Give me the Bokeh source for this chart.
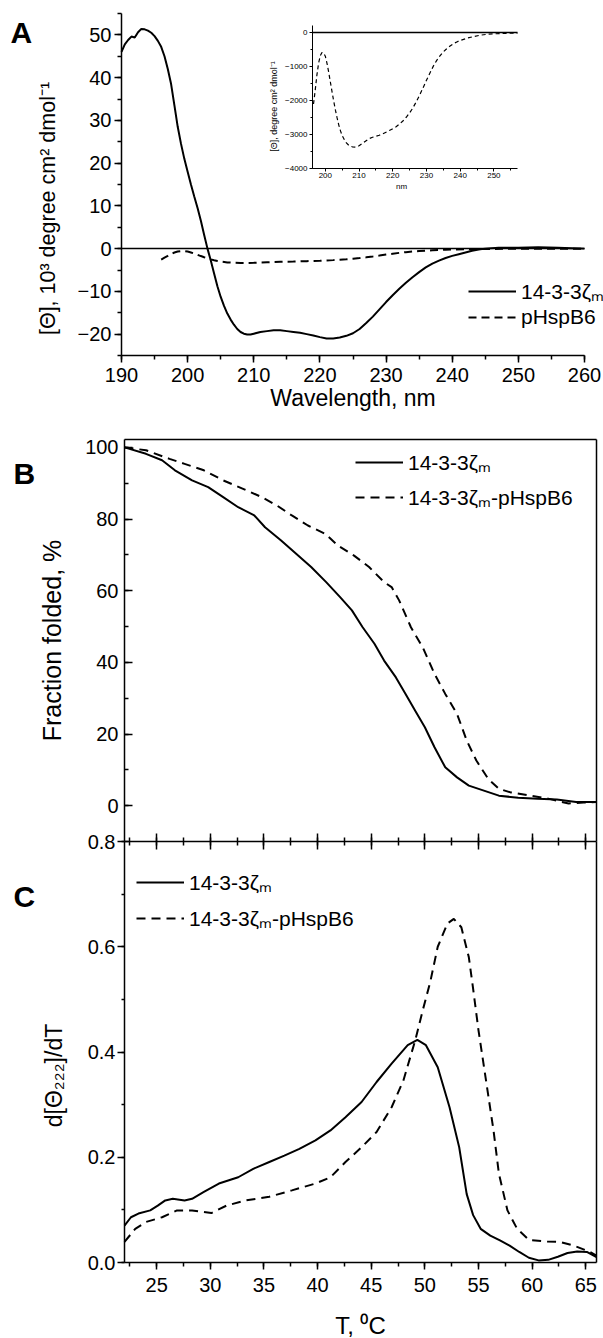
import math
from bokeh.plotting import figure
from bokeh.models import (Range1d, SingleIntervalTicker, FixedTicker, Label, Legend, LegendItem,
                          LinearAxis, PrintfTickFormatter)
from bokeh.embed import file_html
from bokeh.resources import INLINE

FONT = "Liberation Sans"

# ---------------- Panel A : far-UV CD spectra ----------------
wl_zeta = [190.0, 190.5, 191.0, 191.5, 192.0, 192.5, 193.0, 193.5, 194.0, 194.5,
           195.0, 195.5, 196.0, 196.5, 197.0, 197.5, 198.0, 198.5, 199.0, 199.5,
           200.0, 200.5, 201.0, 201.5, 202.0, 202.5, 203.0, 203.5, 204.0, 204.5,
           205.0, 205.5, 206.0, 206.5, 207.0, 207.5, 208.0, 208.5, 209.0, 209.5,
           210.0, 211.0, 212.0, 213.0, 214.0, 215.0, 216.0, 217.0, 218.0, 219.0,
           220.0, 221.0, 222.0, 223.0, 224.0, 225.0, 226.0, 227.0, 228.0, 229.0,
           230.0, 231.0, 232.0, 233.0, 234.0, 235.0, 236.0, 237.0, 238.0, 239.0,
           240.0, 241.0, 242.0, 243.0, 244.0, 245.0, 247.0, 250.0, 253.0, 256.0,
           258.0, 260.0]
cd_zeta = [46.0, 47.8, 48.8, 49.6, 49.4, 50.6, 51.4, 51.3, 51.0, 50.5,
           49.7, 48.6, 47.2, 45.0, 42.0, 38.5, 33.5, 28.5, 24.5, 21.0,
           18.0, 15.0, 12.2, 9.5, 6.5, 3.2, 0.0, -2.8, -5.8, -8.8,
           -11.3, -13.4, -15.2, -16.6, -17.8, -18.8, -19.5, -19.9, -20.1, -20.1,
           -19.9, -19.5, -19.3, -19.1, -19.1, -19.3, -19.5, -19.7, -20.0, -20.3,
           -20.7, -21.0, -21.0, -20.8, -20.4, -19.8, -18.8, -17.4, -15.9, -14.2,
           -12.5, -10.9, -9.4, -8.0, -6.7, -5.5, -4.4, -3.5, -2.8, -2.2,
           -1.7, -1.3, -0.9, -0.5, -0.2, 0.0, 0.2, 0.2, 0.3, 0.2,
           0.1, 0.0]

# pHspB6, degree cm2 dmol-1 (inset units; the main panel shows it in 10^3 units)
wl_hsp = [196.0, 196.5, 197.0, 197.5, 198.0, 198.5, 199.0, 199.5, 200.0, 200.5,
          201.0, 201.5, 202.0, 202.5, 203.0, 203.5, 204.0, 204.5, 205.0, 206.0,
          207.0, 208.0, 209.0, 210.0, 211.0, 212.0, 213.0, 214.0, 215.0, 216.0,
          217.0, 218.0, 219.0, 220.0, 221.0, 222.0, 223.0, 224.0, 225.0, 226.0,
          227.0, 228.0, 229.0, 230.0, 231.0, 232.0, 233.0, 234.0, 235.0, 236.0,
          237.0, 238.0, 239.0, 240.0, 242.0, 244.0, 246.0, 248.0, 250.0, 253.0,
          257.0, 260.0]
cd_hsp = [-2550, -2100, -1700, -1250, -900, -680, -580, -590, -690, -900,
          -1160, -1450, -1740, -2020, -2280, -2510, -2720, -2890, -3030, -3220,
          -3320, -3360, -3370, -3330, -3260, -3190, -3120, -3080, -3050, -3020,
          -2980, -2930, -2880, -2830, -2770, -2690, -2600, -2490, -2360, -2210,
          -2030, -1830, -1620, -1400, -1190, -990, -820, -680, -560, -470,
          -390, -320, -270, -225, -160, -110, -70, -45, -30, -18,
          -8, 0]

# ---------------- Panel B : fraction folded ----------------
t_b_zeta = [22.0, 24.0, 25.5, 26.7, 28.3, 29.8, 31.2, 32.6, 34.1, 35.1,
            36.6, 38.0, 39.4, 40.8, 42.1, 43.2, 44.2, 45.3, 46.2, 47.3,
            48.2, 49.1, 50.0, 50.9, 51.9, 53.0, 54.1, 55.5, 56.9, 58.7,
            60.5, 62.3, 64.1, 66.0]
ff_zeta = [100.0, 98.2, 96.4, 93.6, 90.8, 88.9, 86.1, 83.3, 81.0, 77.7,
           74.0, 70.3, 66.6, 62.4, 58.2, 54.5, 49.8, 45.2, 40.5, 35.8,
           31.2, 26.5, 21.9, 16.3, 10.7, 7.9, 5.6, 4.2, 2.8, 2.2,
           1.9, 1.7, 1.0, 1.0]
t_b_cplx = [22.0, 24.0, 26.2, 27.6, 29.4, 31.2, 33.0, 34.8, 36.2, 37.6,
            39.1, 40.7, 41.9, 43.4, 44.8, 46.2, 46.9, 47.6, 48.7, 49.8,
            50.9, 51.9, 53.0, 53.9, 54.8, 55.9, 56.9, 58.0, 59.8, 61.6,
            63.4, 64.8, 66.0]
ff_cplx = [100.0, 99.2, 96.8, 95.4, 93.6, 90.8, 88.5, 86.1, 83.8, 81.0,
           78.2, 75.9, 72.6, 69.8, 66.6, 62.4, 61.0, 57.3, 49.8, 44.2,
           36.8, 31.2, 25.6, 18.2, 12.6, 7.5, 4.7, 3.7, 2.8, 1.9,
           0.6, 0.9, 1.0]

# ---------------- Panel C : first derivative ----------------
t_c_zeta = [22.0, 22.6, 23.3, 24.4, 25.1, 25.8, 26.5, 27.6, 28.3, 29.4,
            30.8, 32.6, 34.0, 35.5, 36.9, 38.3, 39.8, 41.2, 42.6, 44.1,
            45.5, 46.9, 48.4, 49.3, 50.1, 51.2, 52.3, 53.2, 53.9, 54.5,
            55.2, 56.1, 57.0, 57.9, 58.8, 59.7, 60.6, 61.5, 62.4, 63.3,
            64.2, 65.1, 66.0]
d_zeta = [0.070, 0.086, 0.093, 0.099, 0.108, 0.118, 0.121, 0.118, 0.121, 0.134,
          0.150, 0.162, 0.178, 0.191, 0.203, 0.216, 0.232, 0.251, 0.276, 0.305,
          0.343, 0.378, 0.413, 0.423, 0.413, 0.371, 0.295, 0.219, 0.130, 0.090,
          0.064, 0.051, 0.042, 0.032, 0.020, 0.009, 0.004, 0.005, 0.011, 0.018,
          0.021, 0.020, 0.010]
t_c_cplx = [22.0, 23.0, 24.0, 25.5, 26.9, 28.3, 30.1, 31.5, 33.3, 35.5,
            37.6, 39.8, 41.2, 42.6, 44.1, 45.5, 46.9, 48.0, 49.1, 49.8,
            50.5, 51.2, 52.1, 52.7, 53.4, 54.1, 54.5, 55.0, 55.7, 56.4,
            56.9, 57.7, 58.6, 59.7, 61.4, 62.6, 63.9, 65.4, 66.0]
d_cplx = [0.039, 0.064, 0.077, 0.086, 0.099, 0.099, 0.094, 0.108, 0.118, 0.125,
          0.137, 0.150, 0.162, 0.191, 0.219, 0.248, 0.295, 0.346, 0.422, 0.479,
          0.533, 0.600, 0.644, 0.653, 0.637, 0.580, 0.520, 0.441, 0.346, 0.251,
          0.169, 0.099, 0.064, 0.043, 0.040, 0.039, 0.032, 0.020, 0.013]

LABEL_ZETA = "14-3-3\u03b6\u2098"
LABEL_HSP = "pHspB6"
LABEL_CPLX = "14-3-3\u03b6\u2098-pHspB6"

# axis limits of each panel
A_XLIM, A_YLIM = (190, 260), (-25, 55)
I_XLIM, I_YLIM = (196.2, 257), (-4000, 215)
BC_XLIM = (22, 66)
B_YLIM = (-10, 102.2)
C_YLIM = (0.0, 0.8)

# ---------------- one canvas; each panel gets its own ranges ----------------
W, H, OFF = 603, 1338, 0  # canvas size and page offset


def x_range_for(lim, p0, p1):
    d0, d1 = lim
    k = (d1 - d0) / (p1 - p0)
    return Range1d(d0 + (OFF - p0) * k, d0 + (OFF + W - p0) * k)


def y_range_for(lim, p_bottom, p_top):
    d0, d1 = lim  # d0 at page y p_bottom, d1 at page y p_top
    k = (d1 - d0) / (p_top - p_bottom)
    return Range1d(d0 + (OFF + H - p_bottom) * k, d0 + (OFF - p_bottom) * k)


p = figure(width=W, height=H, x_range=Range1d(0, W), y_range=Range1d(H, 0),
           x_axis_location=None, y_axis_location=None, min_border=0,
           output_backend="svg", toolbar_location=None)
p.outline_line_color = None
p.grid.visible = False
p.background_fill_color = "white"
p.border_fill_color = "white"

p.extra_x_ranges = {
    "ax": x_range_for(A_XLIM, 121, 584),
    "ix": x_range_for(I_XLIM, 312, 517),
    "bx": x_range_for(BC_XLIM, 124, 596),
}
p.extra_y_ranges = {
    "ay": y_range_for(A_YLIM, 355, 13),
    "iy": y_range_for(I_YLIM, 168, 25),
    "by": y_range_for(B_YLIM, 841, 439),
    "cy": y_range_for(C_YLIM, 1262, 841),
}

NO_TICKS = FixedTicker(ticks=[], minor_ticks=[])


def add_axis(side, xr, yr, loc, bounds, ticker, tin=0, tout=7, min_in=0, min_out=4,
             size="20px", standoff=3, lw=1.5, labels=True, title=None, title_size="23px",
             title_standoff=5, fmt=None):
    ax = LinearAxis(x_range_name=xr, y_range_name=yr, fixed_location=loc, bounds=bounds,
                    ticker=ticker)
    if fmt is not None:
        ax.formatter = fmt
    ax.axis_line_color = "black"
    ax.axis_line_width = lw
    ax.major_tick_line_color = "black"
    ax.major_tick_line_width = lw
    ax.minor_tick_line_color = "black"
    ax.minor_tick_line_width = lw
    ax.major_tick_in = tin
    ax.major_tick_out = tout
    ax.minor_tick_in = min_in
    ax.minor_tick_out = min_out
    ax.major_label_text_font = FONT
    ax.major_label_text_font_size = size
    ax.major_label_text_color = "black"
    ax.major_label_standoff = standoff
    if not labels:
        ax.major_label_text_alpha = 0
    if title:
        ax.axis_label = title
        ax.axis_label_text_font = FONT
        ax.axis_label_text_font_style = "normal"
        ax.axis_label_text_font_size = title_size
        ax.axis_label_text_color = "black"
        ax.axis_label_standoff = title_standoff
    p.add_layout(ax, side)
    return ax


def text(t, x, y, size, angle=0.0, bold=False, align="center"):
    # x, y: page pixels
    p.add_layout(Label(x=x - OFF, y=y - OFF, text=t, angle=angle, text_font=FONT,
                       text_font_size=size, text_font_style="bold" if bold else "normal",
                       text_align=align, text_baseline="middle", text_color="black"))


def legend(items, left, bottom, spacing):
    leg = Legend(items=items, location=(left - OFF, OFF + H - bottom))
    leg.border_line_color = None
    leg.background_fill_alpha = 0
    leg.padding = 0
    leg.margin = 0
    leg.spacing = spacing
    leg.glyph_width = 48
    leg.glyph_height = 20
    leg.label_standoff = 5
    leg.label_height = 20
    leg.label_text_font = FONT
    leg.label_text_font_size = "21px"
    leg.label_text_color = "black"
    p.add_layout(leg)


# ---------------- Panel A ----------------
add_axis("left", "ax", "ay", A_XLIM[0], A_YLIM, SingleIntervalTicker(interval=10, num_minor_ticks=2),
         tout=7, min_out=4, standoff=3)
add_axis("below", "ax", "ay", A_YLIM[0], A_XLIM, SingleIntervalTicker(interval=10, num_minor_ticks=2),
         tout=7, min_out=4, standoff=5, title="Wavelength, nm", title_standoff=0)
add_axis("below", "ax", "ay", 0, A_XLIM, NO_TICKS, tout=0, min_out=0, labels=False)
rA1 = p.line(wl_zeta, cd_zeta, x_range_name="ax", y_range_name="ay",
             line_color="black", line_width=2)
rA2 = p.line(wl_hsp, [v / 1000.0 for v in cd_hsp], x_range_name="ax", y_range_name="ay",
             line_color="black", line_width=2, line_dash="8 5")
legend([LegendItem(label=LABEL_ZETA, renderers=[rA1]),
        LegendItem(label=LABEL_HSP, renderers=[rA2])], 468, 329, -5)
text("[\u0398], 10\u00b3 degree cm\u00b2 dmol\u207b\u00b9", 47, 208, "21.5px", angle=math.pi / 2)
text("A", 10, 32, "30px", bold=True, align="left")

# ---------------- Inset ----------------
inset_wl = [w for w in wl_hsp if I_XLIM[0] <= w <= I_XLIM[1]]
inset_cd = [v for w, v in zip(wl_hsp, cd_hsp) if I_XLIM[0] <= w <= I_XLIM[1]]
add_axis("left", "ix", "iy", I_XLIM[0], I_YLIM, SingleIntervalTicker(interval=1000, num_minor_ticks=2),
         tout=3, min_out=2, size="8px", standoff=2, lw=1)
add_axis("below", "ix", "iy", I_YLIM[0], I_XLIM, SingleIntervalTicker(interval=10, num_minor_ticks=2),
         tout=3, min_out=2, size="8px", standoff=1, lw=1)
add_axis("below", "ix", "iy", 0, I_XLIM, NO_TICKS, tout=0, min_out=0, labels=False, lw=1.5)
p.line(inset_wl, inset_cd, x_range_name="ix", y_range_name="iy",
       line_color="black", line_width=1.2, line_dash="4 3")
text("[\u0398], degree cm\u00b2 dmol\u207b\u00b9", 273, 106, "9px", angle=math.pi / 2)
text("nm", 401, 186, "8px")

# ---------------- Panel B ----------------
add_axis("left", "bx", "by", BC_XLIM[0], B_YLIM, SingleIntervalTicker(interval=20, num_minor_ticks=2),
         tin=8, tout=0, min_in=4, min_out=0, standoff=6,
         title="Fraction folded, %", title_size="25px", title_standoff=16)
add_axis("above", "bx", "by", B_YLIM[1], BC_XLIM, NO_TICKS, tout=0, min_out=0, labels=False)
add_axis("right", "bx", "by", BC_XLIM[1], B_YLIM, NO_TICKS, tout=0, min_out=0, labels=False)
# shared border between B and C: ticks on both sides
add_axis("below", "bx", "by", B_YLIM[0], BC_XLIM, SingleIntervalTicker(interval=5, num_minor_ticks=2),
         tin=8, tout=8, min_in=4, min_out=4, labels=False)
rB1 = p.line(t_b_zeta, ff_zeta, x_range_name="bx", y_range_name="by",
             line_color="black", line_width=2)
rB2 = p.line(t_b_cplx, ff_cplx, x_range_name="bx", y_range_name="by",
             line_color="black", line_width=2, line_dash="9 6")
legend([LegendItem(label=LABEL_ZETA, renderers=[rB1]),
        LegendItem(label=LABEL_CPLX, renderers=[rB2])], 355, 511, 7)
text("B", 13, 473, "30px", bold=True, align="left")

# ---------------- Panel C ----------------
add_axis("left", "bx", "cy", BC_XLIM[0], C_YLIM, SingleIntervalTicker(interval=0.2, num_minor_ticks=2),
         tout=7, min_out=3, standoff=2, fmt=PrintfTickFormatter(format="%.1f"))
add_axis("below", "bx", "cy", C_YLIM[0], BC_XLIM, SingleIntervalTicker(interval=5, num_minor_ticks=2),
         tout=7, min_out=4, standoff=8, title="T, \u2070C", title_size="24px", title_standoff=17)
add_axis("right", "bx", "cy", BC_XLIM[1], C_YLIM, NO_TICKS, tout=0, min_out=0, labels=False)
rC1 = p.line(t_c_zeta, d_zeta, x_range_name="bx", y_range_name="cy",
             line_color="black", line_width=2)
rC2 = p.line(t_c_cplx, d_cplx, x_range_name="bx", y_range_name="cy",
             line_color="black", line_width=2, line_dash="9 6")
legend([LegendItem(label=LABEL_ZETA, renderers=[rC1]),
        LegendItem(label=LABEL_CPLX, renderers=[rC2])], 136, 932, 8)
text("d[\u0398\u2082\u2082\u2082]/dT", 53, 1075, "23px", angle=math.pi / 2)
text("C", 13, 896, "30px", bold=True, align="left")

open("out.html", "w").write(file_html(p, INLINE))
